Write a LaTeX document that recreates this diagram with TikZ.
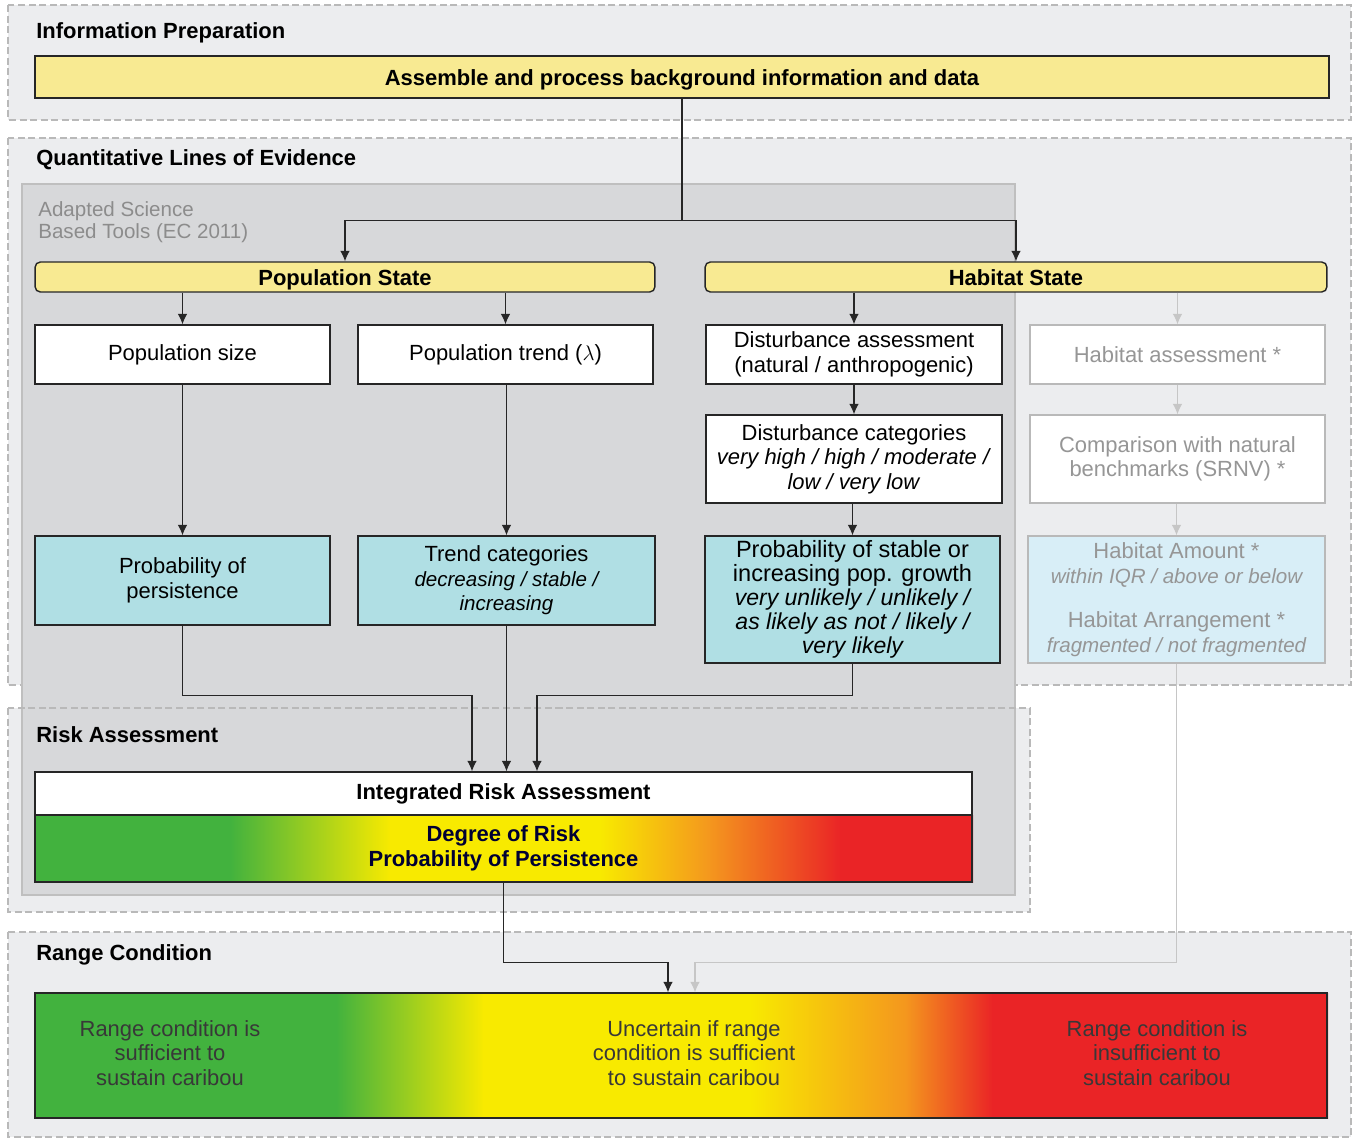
\documentclass[tikz,border=0pt]{standalone}
\usepackage{fontspec}
\setmainfont{Liberation Sans}
\usetikzlibrary{arrows.meta}
\definecolor{panelgrey}{RGB}{236,237,239}
\definecolor{toolgrey}{RGB}{215,216,218}
\definecolor{boxyellow}{RGB}{248,234,146}
\definecolor{boxcyan}{RGB}{176,223,228}
\definecolor{paleblue}{RGB}{216,238,247}
\definecolor{fadegrey}{RGB}{150,150,150}
\definecolor{riskgreen}{RGB}{66,178,62}
\definecolor{riskyellow}{RGB}{248,234,0}
\definecolor{riskorange}{RGB}{244,150,30}
\definecolor{riskred}{RGB}{234,36,38}
\newcommand{\boxfont}{\fontsize{12.5}{14}\selectfont}
\newcommand{\smallboxfont}{\fontsize{11.7}{14}\selectfont}
\tikzset{
  panel/.style={draw=gray!55, dashed, dash pattern=on 4pt off 2pt, line width=0.6pt},
  heading/.style={anchor=west, inner sep=0pt, font=\boxfont\bfseries},
  box/.style={draw=black!85, line width=0.8pt, fill=white, align=center, inner sep=0pt, font=\boxfont},
  yellowbox/.style={box, fill=boxyellow, font=\boxfont\bfseries, text height=2ex, text depth=0.2ex},
  cyanbox/.style={box, fill=boxcyan},
  fadebox/.style={box, draw=gray!55, text=fadegrey},
  rangetext/.style={align=center, font=\boxfont, text=black!78},
  arrow/.style={-{Latex[length=6pt,width=5.5pt]}, line width=0.6pt, black!85},
  fadearrow/.style={-{Latex[length=6pt,width=5.5pt]}, line width=0.6pt, gray!45},
}
\begin{document}
\begin{tikzpicture}[x=0.02cm, y=-0.02cm]
\useasboundingbox (0,0) rectangle (1353,1139);
% panels
\fill[panelgrey] (8,5) rectangle (1351,120);
\fill[panelgrey] (8,138) rectangle (1351,685);
\fill[panelgrey] (8,708) rectangle (1030,912);
\fill[panelgrey] (8,932) rectangle (1351,1137);
\draw[panel] (8,5) rectangle (1351,120);
\draw[panel] (8,138) rectangle (1351,685);
\draw[panel] (8,932) rectangle (1351,1137);
\fill[toolgrey, draw=gray!50, line width=0.6pt] (22,184) rectangle (1015,895);
\draw[panel] (8,708) rectangle (1030,912);
\node[heading] (infohead) at (36,33) {Information Preparation};
\node[heading] (quanthead) at (36,160) {Quantitative Lines of Evidence};
\node[heading] (riskhead) at (36,735) {Risk Assessment};
\node[heading] (rangehead) at (36,955) {Range Condition};
\node[anchor=west, inner sep=0pt, align=left, text=gray!90, font=\fontsize{11.7}{12.6}\selectfont] (tools) at (38,222) {Adapted Science\\Based Tools (EC 2011)};

% boxes
\node[yellowbox, minimum width=25.88cm, minimum height=0.84cm] (assemble) at (682,77) {Assemble and process background information and data};
\node[yellowbox, rounded corners=3pt, minimum width=12.4cm, minimum height=0.6cm] (popstate) at (345,277) {Population State};
\node[yellowbox, rounded corners=3pt, minimum width=12.44cm, minimum height=0.6cm] (habstate) at (1016,277) {Habitat State};
\node[box, minimum width=5.9cm, minimum height=1.18cm] (popsize) at (182.5,354.5) {Population size};
\node[box, minimum width=5.9cm, minimum height=1.18cm] (poptrend) at (505.5,354.5) {Population trend ($\lambda$)};
\node[box, minimum width=5.92cm, minimum height=1.18cm] (distass) at (854,354.5) {Disturbance assessment\\(natural / anthropogenic)};
\node[fadebox, minimum width=5.9cm, minimum height=1.18cm] (habass) at (1177.5,354.5) {Habitat assessment *};
\node[box, minimum width=5.92cm, minimum height=1.76cm] (distcat) at (854,459) {Disturbance categories\\\textit{very high / high / moderate /}\\\textit{low / very low}};
\node[fadebox, minimum width=5.9cm, minimum height=1.76cm] (compare) at (1177.5,459) {Comparison with natural\\benchmarks (SRNV) *};
\node[cyanbox, minimum width=5.9cm, minimum height=1.78cm] (probpers) at (182.5,580.5) {Probability of\\persistence};
\node[cyanbox, minimum width=5.94cm, minimum height=1.78cm] (trendcat) at (506.5,580.5) {Trend categories\\{\smallboxfont\itshape decreasing / stable /}\\{\smallboxfont\itshape increasing}};
\node[cyanbox, font=\fontsize{13.4}{13.6}\selectfont, minimum width=5.9cm, minimum height=2.54cm] (probgrowth) at (852.5,599.5) {Probability of stable or\\increasing pop. growth\\{\fontsize{13.1}{13.6}\selectfont\itshape very unlikely / unlikely /}\\{\fontsize{13.1}{13.6}\selectfont\itshape as likely as not / likely /}\\{\fontsize{13.1}{13.6}\selectfont\itshape very likely}};
\node[fadebox, fill=paleblue, minimum width=5.94cm, minimum height=2.54cm] (habamount) at (1176.5,599.5) {Habitat Amount *\\{\smallboxfont\itshape within IQR / above or below}\\[0.4cm]Habitat Arrangement *\\{\smallboxfont\itshape fragmented / not fragmented}};
\node[box, font=\boxfont\bfseries, minimum width=18.74cm, minimum height=0.86cm] (integ) at (503.5,793.5) {Integrated Risk Assessment};

% colour bars
\foreach \a/\b/\ca/\cb in {35/230/riskgreen/riskgreen, 230/390/riskgreen/riskyellow, 390/600/riskyellow/riskyellow, 600/710/riskyellow/riskorange, 710/840/riskorange/riskred, 840/972/riskred/riskred}
  \fill[left color=\ca, right color=\cb] (\a,815) rectangle ({\b+1},882);
\foreach \a/\b/\ca/\cb in {35/336/riskgreen/riskgreen, 336/483/riskgreen/riskyellow, 483/750/riskyellow/riskyellow, 750/906/riskyellow/riskorange, 906/992/riskorange/riskred, 992/1327/riskred/riskred}
  \fill[left color=\ca, right color=\cb] (\a,993) rectangle ({\b+1},1118);
\node[box, fill=none, font=\boxfont\bfseries, text=black!80!blue, minimum width=18.74cm, minimum height=1.34cm] (degree) at (503.5,848.5) {Degree of Risk\\Probability of Persistence};
\node[box, fill=none, minimum width=25.84cm, minimum height=2.5cm] (range) at (681,1055.5) {};
\node[rangetext] (rangegood) at (170,1053) {Range condition is\\sufficient to\\sustain caribou};
\node[rangetext] (rangemid) at (694,1053) {Uncertain if range\\condition is sufficient\\to sustain caribou};
\node[rangetext] (rangebad) at (1157,1053) {Range condition is\\insufficient to\\sustain caribou};

% connectors
\draw[arrow] (assemble.south) -- ++(0,122) -| (popstate.north);
\draw[arrow] (assemble.south) -- ++(0,122) -| (habstate.north);
\draw[arrow] (popstate.south -| popsize.north) -- (popsize.north);
\draw[arrow] (popstate.south -| poptrend.north) -- (poptrend.north);
\draw[arrow] (habstate.south -| distass.north) -- (distass.north);
\draw[fadearrow] (habstate.south -| habass.north) -- (habass.north);
\draw[arrow] (popsize.south) -- (probpers.north);
\draw[arrow] (poptrend.south -| trendcat.north) -- (trendcat.north);
\draw[arrow] (distass.south) -- (distcat.north);
\draw[arrow] (distcat.south -| probgrowth.north) -- (probgrowth.north);
\draw[fadearrow] (habass.south) -- (compare.north);
\draw[fadearrow] (compare.south -| habamount.north) -- (habamount.north);
\draw[arrow] (probpers.south) -- ++(0,70) -| ([xshift=-0.63cm]integ.north);
\draw[arrow] (trendcat.south) -- (trendcat.south |- integ.north);
\draw[arrow] (probgrowth.south) -- ++(0,32) -| ([xshift=0.67cm]integ.north);
\draw[arrow] (degree.south) -- ++(0,80) -| ([xshift=-0.26cm]range.north);
\draw[fadearrow] (habamount.south) -- ++(0,299) -| ([xshift=0.28cm]range.north);
\end{tikzpicture}
\end{document}
